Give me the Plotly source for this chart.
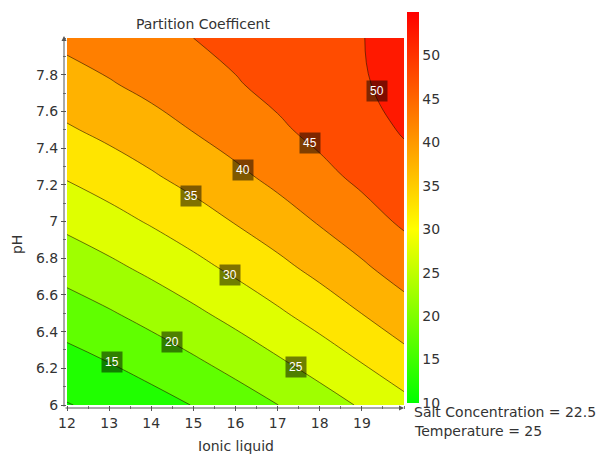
import plotly.graph_objects as go

# Data
ionic_liquid = [12, 13, 14, 15, 16, 17, 18, 19, 20]
ph_values = [6.0, 6.25, 6.5, 6.75, 7.0, 7.25, 7.5, 7.75, 8.0]
partition = [
    [9.77, 11.29, 13.09, 15.15, 17.44, 19.95, 22.65, 25.53, 28.57],
    [13.52, 15.30, 17.32, 19.57, 22.02, 24.66, 27.46, 30.41, 33.48],
    [17.61, 19.56, 21.73, 24.08, 26.61, 29.30, 32.12, 35.05, 38.07],
    [21.90, 23.94, 26.16, 28.55, 31.07, 33.72, 36.48, 39.31, 42.20],
    [26.23, 28.28, 30.48, 32.81, 35.26, 37.79, 40.39, 43.05, 45.73],
    [30.47, 32.45, 34.54, 36.74, 39.01, 41.35, 43.72, 46.11, 48.50],
    [34.47, 36.29, 38.19, 40.17, 42.20, 44.25, 46.32, 48.37, 50.38],
    [38.07, 39.66, 41.30, 42.98, 44.67, 46.37, 48.03, 49.66, 51.22],
    [41.15, 42.41, 43.70, 45.00, 46.29, 47.54, 48.73, 49.85, 52.00],
]
label_text = ["15", "20", "25", "30", "35", "40", "45", "50"]
label_x = [13.07, 14.49, 17.44, 15.87, 14.94, 16.18, 17.77, 19.36]
label_y = [6.234, 6.343, 6.207, 6.708, 7.139, 7.281, 7.428, 7.711]
x_ticks = [12, 13, 14, 15, 16, 17, 18, 19]
y_ticks = [6.0, 6.2, 6.4, 6.6, 6.8, 7.0, 7.2, 7.4, 7.6, 7.8]
y_ticktext = ["6", "6.2", "6.4", "6.6", "6.8", "7", "7.2", "7.4", "7.6", "7.8"]
cbar_ticks = [10, 15, 20, 25, 30, 35, 40, 45, 50]
z_min, z_max = 10, 55

colorscale = [[0.0, "#00ff00"], [0.4444, "#ffff00"], [1.0, "#ff0000"]]
FONT = "DejaVu Sans"
TXT = "#333333"

fig = go.Figure()
fig.add_trace(go.Contour(
    x=ionic_liquid, y=ph_values, z=partition,
    colorscale=colorscale, zmin=z_min, zmax=z_max,
    contours=dict(start=10, end=55, size=5, coloring="fill", showlines=True),
    line=dict(color="rgba(40,20,0,0.75)", width=0.8, smoothing=1.3),
    showscale=False, hoverinfo="skip",
))
# continuous colour bar
fig.add_trace(go.Scatter(
    x=[ionic_liquid[0], ionic_liquid[0]], y=[ph_values[0], ph_values[0]],
    mode="markers", hoverinfo="skip", showlegend=False,
    marker=dict(color=[z_min, z_max], cmin=z_min, cmax=z_max, colorscale=colorscale,
                opacity=0, showscale=True,
                colorbar=dict(x=1.009, xanchor="left", xpad=0, y=0.0055, yanchor="bottom",
                              ypad=0, len=1.065, lenmode="fraction", thickness=12,
                              outlinewidth=0, tickvals=cbar_ticks, ticks="",
                              tickfont=dict(family=FONT, size=14, color=TXT))),
))

annotations = []
for t, lx, ly in zip(label_text, label_x, label_y):
    annotations.append(dict(x=lx, y=ly, xref="x", yref="y", text=t, showarrow=False,
                            xanchor="center", yanchor="middle",
                            font=dict(family="Liberation Sans", size=12, color="white"),
                            bgcolor="rgba(0,0,0,0.5)", borderpad=3))
# axis arrows
annotations.append(dict(x=-0.0089, y=1.0054, xref="paper", yref="paper", ax=0, ay=372,
                        axref="pixel", ayref="pixel", text="", showarrow=True,
                        arrowhead=2, arrowsize=1, arrowwidth=1, arrowcolor="#555"))
annotations.append(dict(x=1.0, y=-0.0082, xref="paper", yref="paper", ax=-340, ay=0,
                        axref="pixel", ayref="pixel", text="", showarrow=True,
                        arrowhead=2, arrowsize=1, arrowwidth=1, arrowcolor="#555"))
annotations.append(dict(x=-0.148, y=0.436, xref="paper", yref="paper", text="pH",
                        xanchor="center", yanchor="middle",
                        textangle=-90, showarrow=False, font=dict(family=FONT, size=14, color=TXT)))
annotations.append(dict(x=0.5, y=-0.112, xref="paper", yref="paper", text="Ionic liquid",
                        xanchor="center", yanchor="middle",
                        showarrow=False, font=dict(family=FONT, size=14, color=TXT)))
annotations.append(dict(x=1.0237, y=-0.0204, xref="paper", yref="paper", xanchor="left",
                        yanchor="middle", text="Salt Concentration = 22.5", showarrow=False,
                        font=dict(family=FONT, size=14, color=TXT)))
annotations.append(dict(x=1.0237, y=-0.0695, xref="paper", yref="paper", xanchor="left",
                        yanchor="middle", text="Temperature = 25", showarrow=False,
                        font=dict(family=FONT, size=14, color=TXT)))

fig.update_layout(
    width=604, height=455,
    margin=dict(l=67, r=200, t=38, b=50),
    paper_bgcolor="white", plot_bgcolor="white",
    title=dict(text="Partition Coefficent", x=0.336, xanchor="center", y=0.946, yanchor="middle",
               font=dict(family=FONT, size=14, color=TXT)),
    annotations=annotations,
    showlegend=False,
)
fig.update_xaxes(range=[12, 20], tickvals=x_ticks, ticks="outside", ticklen=5, tickcolor="#555",
                 showgrid=False, zeroline=False, showline=False,
                 tickfont=dict(family=FONT, size=14, color=TXT),
                 minor=dict(tick0=12, dtick=0.5, ticks="outside", ticklen=3, tickcolor="#777"))
fig.update_yaxes(range=[6, 8], tickvals=y_ticks, ticktext=y_ticktext, ticks="outside", ticklen=5,
                 tickcolor="#555", showgrid=False, zeroline=False, showline=False,
                 tickfont=dict(family=FONT, size=14, color=TXT),
                 minor=dict(tick0=6, dtick=0.1, ticks="outside", ticklen=3, tickcolor="#777"))

fig.write_html("out.html")
